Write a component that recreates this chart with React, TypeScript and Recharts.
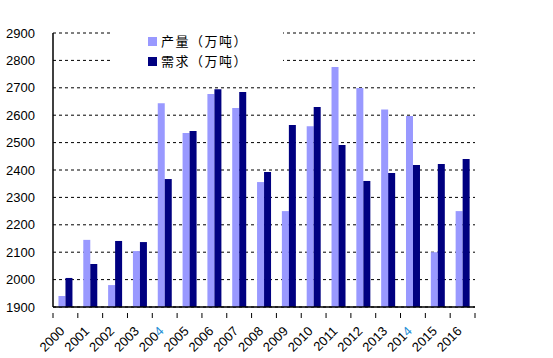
import { Bar, BarChart, CartesianGrid, XAxis, YAxis } from "recharts";

const years = [
  "2000", "2001", "2002", "2003", "2004", "2005", "2006", "2007", "2008",
  "2009", "2010", "2011", "2012", "2013", "2014", "2015", "2016",
];
const output = [
  1940, 2145, 1980, 2104, 2644, 2535, 2677, 2626, 2356, 2250, 2560, 2776,
  2699, 2621, 2597, 2100, 2250,
];
const demand = [
  2006, 2057, 2141, 2137, 2367, 2542, 2695, 2685, 2393, 2564, 2630, 2491,
  2360, 2389, 2418, 2422, 2440,
];
const yTicks = [1900, 2000, 2100, 2200, 2300, 2400, 2500, 2600, 2700, 2800, 2900];
const highlighted = ["2004", "2014"];
const seriesNames = ["产量（万吨）", "需求（万吨）"];
const seriesColors = ["#9999ff", "#000080"];

const data = years.map((year, i) => ({
  year,
  output: output[i],
  demand: demand[i],
}));

const W = 553;
const H = 358;
const margin = { top: 33, right: 78, left: 0, bottom: 0 };
const yAxisWidth = 53;
const xAxisHeight = 51;
const plotWidth = W - margin.right - yAxisWidth;
const band = plotWidth / years.length;

const font = "'Liberation Sans', Arial, sans-serif";
const cjk = "'Noto Sans CJK SC', sans-serif";

function YearTick(props: any) {
  const { x, y, payload, index } = props;
  const label: string = payload.value;
  const hi = highlighted.includes(label);
  const ax = x;
  const ay = y + 17;
  return (
    <g>
      <line x1={x - band / 2} y1={y - 2} x2={x - band / 2} y2={y + 3} stroke="#000" />
      {index === years.length - 1 && (
        <line x1={x + band / 2} y1={y - 2} x2={x + band / 2} y2={y + 3} stroke="#000" />
      )}
      <text
        x={ax}
        y={ay}
        textAnchor="end"
        transform={`rotate(-45, ${ax}, ${ay})`}
        fontFamily={font}
        fontSize={13}
        fill="#000"
      >
        {hi ? label.slice(0, 3) : label}
        {hi && <tspan fill="#1f8fd6">{label.slice(3)}</tspan>}
      </text>
    </g>
  );
}

function LegendBox() {
  return (
    <div
      style={{
        position: "absolute",
        left: 110,
        top: 27,
        width: 173,
        height: 48,
        background: "#fff",
        paddingTop: 4,
        boxSizing: "border-box",
      }}
    >
      {seriesNames.map((name, i) => (
        <div key={name} style={{ display: "flex", alignItems: "center", height: 20, paddingLeft: 38 }}>
          <span
            style={{ width: 9, height: 9, background: seriesColors[i], display: "inline-block", marginRight: 4 }}
          />
          <span style={{ fontFamily: cjk, fontSize: 13, color: "#000", letterSpacing: 1.5, lineHeight: "20px" }}>
            {name}
          </span>
        </div>
      ))}
    </div>
  );
}

export default function App() {
  return (
    <div style={{ position: "absolute", left: 0, top: 0, width: W, height: H, background: "#fff" }}>
      <BarChart
        width={W}
        height={H}
        data={data}
        margin={margin}
        barGap={0}
        barCategoryGap="22%"
      >
        <CartesianGrid vertical={false} stroke="#000" strokeDasharray="3 3" />
        <XAxis
          dataKey="year"
          height={xAxisHeight}
          axisLine={{ stroke: "#000", strokeWidth: 1.5 }}
          tickLine={false}
          interval={0}
          tick={<YearTick />}
        />
        <YAxis
          width={yAxisWidth}
          domain={[1900, 2900]}
          ticks={yTicks}
          axisLine={{ stroke: "#000", strokeWidth: 1.5 }}
          tickLine={false}
          tickMargin={12}
          tick={{ fill: "#000", fontSize: 13, fontFamily: font }}
          allowDataOverflow
        />
        <Bar dataKey="output" name={seriesNames[0]} fill={seriesColors[0]} isAnimationActive={false} />
        <Bar dataKey="demand" name={seriesNames[1]} fill={seriesColors[1]} isAnimationActive={false} />
      </BarChart>
      <LegendBox />
    </div>
  );
}
